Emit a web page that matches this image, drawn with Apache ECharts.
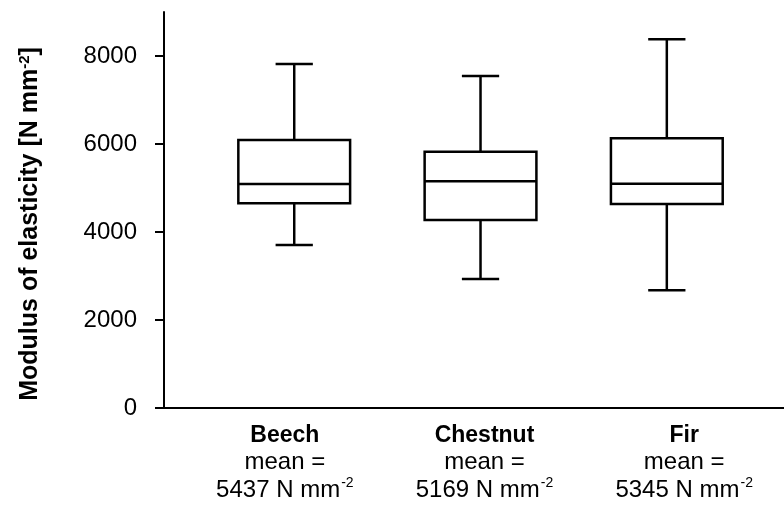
<!DOCTYPE html>
<html>
<head>
<meta charset="utf-8">
<script src="https://cdn.jsdelivr.net/npm/echarts@6/dist/echarts.min.js"></script>
<style>
  html, body { margin: 0; padding: 0; background: #fff; }
  #chart { width: 784px; height: 509px; }
</style>
</head>
<body>
<div id="chart"></div>
<script>
// wood species and their five-number summaries (N mm-2)
const categories = ['Beech', 'Chestnut', 'Fir'];
const means = [5437, 5169, 5345];
const whiskerLow = [3705, 2932, 2674];
const q1 = [4652, 4273, 4636];
const median = [5091, 5152, 5098];
const q3 = [6091, 5826, 6129];
const whiskerHigh = [7818, 7545, 8379];
const yTicks = [0, 2000, 4000, 6000, 8000];

const fontFamily = '"Liberation Sans", Arial, sans-serif';
const boxWidth = 0.6;   // in x units (one unit per species)
const capWidth = 0.2;
const lineW = 2.5;

const boxData = categories.map((c, i) => [i + 1, whiskerLow[i], q1[i], median[i], q3[i], whiskerHigh[i]]);

function renderBox(params, api) {
  const x = api.value(0);
  const lo = api.coord([x, api.value(1)]);
  const b1 = api.coord([x, api.value(2)]);
  const md = api.coord([x, api.value(3)]);
  const b3 = api.coord([x, api.value(4)]);
  const hi = api.coord([x, api.value(5)]);
  const hb = api.size([boxWidth, 0])[0] / 2;
  const hc = api.size([capWidth, 0])[0] / 2;
  const st = { stroke: '#000', lineWidth: lineW, fill: null, lineCap: 'butt' };
  return {
    type: 'group',
    children: [
      { type: 'line', shape: { x1: hi[0], y1: hi[1], x2: b3[0], y2: b3[1] }, style: st },
      { type: 'line', shape: { x1: lo[0], y1: lo[1], x2: b1[0], y2: b1[1] }, style: st },
      { type: 'line', shape: { x1: hi[0] - hc, y1: hi[1], x2: hi[0] + hc, y2: hi[1] }, style: st },
      { type: 'line', shape: { x1: lo[0] - hc, y1: lo[1], x2: lo[0] + hc, y2: lo[1] }, style: st },
      { type: 'rect', shape: { x: b3[0] - hb, y: b3[1], width: hb * 2, height: b1[1] - b3[1] },
        style: { stroke: '#000', lineWidth: lineW, fill: '#fff' } },
      { type: 'line', shape: { x1: md[0] - hb, y1: md[1], x2: md[0] + hb, y2: md[1] }, style: st }
    ]
  };
}

const chart = echarts.init(document.getElementById('chart'), null, { renderer: 'canvas' });

chart.setOption({
  animation: false,
  textStyle: { fontFamily: fontFamily },
  grid: [
    { left: 164, right: 0, top: 12, bottom: 101 },
    { left: 185, width: 609, top: 12, bottom: 101 }
  ],
  xAxis: [
    {
      gridIndex: 0,
      type: 'value',
      min: 0.301,
      max: 3.629,
      axisLine: { show: true, lineStyle: { color: '#000', width: 2 } },
      axisTick: { show: false },
      axisLabel: { show: false },
      splitLine: { show: false }
    },
    {
      gridIndex: 1,
      type: 'category',
      data: categories,
      axisLine: { show: false },
      axisTick: { show: false },
      axisLabel: {
        margin: 16,
        interval: 0,
        formatter: function (name, idx) {
          return '{b|' + name + '}\n{n|mean =}\n{n|' + means[idx] + ' N mm}{s|-2}';
        },
        rich: {
          b: { fontSize: 23, fontWeight: 'bold', color: '#000', lineHeight: 24, fontFamily: fontFamily },
          n: { fontSize: 24, color: '#000', lineHeight: 28, fontFamily: fontFamily },
          s: { fontSize: 14, color: '#000', lineHeight: 28, verticalAlign: 'top', padding: [0, 0, 10, 1], fontFamily: fontFamily }
        }
      }
    }
  ],
  yAxis: [
    {
      gridIndex: 0,
      type: 'value',
      min: 0,
      max: 9000,
      interval: 2000,
      name: '{t|Modulus of elasticity [N mm}{s|-2}{t|]}',
      nameLocation: 'middle',
      nameRotate: 90,
      nameGap: 121,
      nameTextStyle: {
        padding: [0, 28, 0, 0],
        rich: {
          t: { fontSize: 25, fontWeight: 'bold', color: '#000', fontFamily: fontFamily },
          s: { fontSize: 15, fontWeight: 'bold', color: '#000', verticalAlign: 'top', padding: [0, 0, 11, 0], fontFamily: fontFamily }
        }
      },
      axisLine: { show: true, lineStyle: { color: '#000', width: 2 } },
      axisTick: { show: true, length: 9, customValues: yTicks, lineStyle: { color: '#000', width: 2 } },
      axisLabel: {
        margin: 27,
        fontSize: 24,
        color: '#000',
        customValues: yTicks,
        formatter: function (v) { return String(v); }
      },
      splitLine: { show: false }
    },
    {
      gridIndex: 1,
      type: 'value',
      min: 0,
      max: 9000,
      show: false
    }
  ],
  series: [
    {
      type: 'custom',
      xAxisIndex: 0,
      yAxisIndex: 0,
      renderItem: renderBox,
      encode: { x: 0, y: [1, 2, 3, 4, 5] },
      data: boxData
    }
  ]
});
</script>
</body>
</html>
